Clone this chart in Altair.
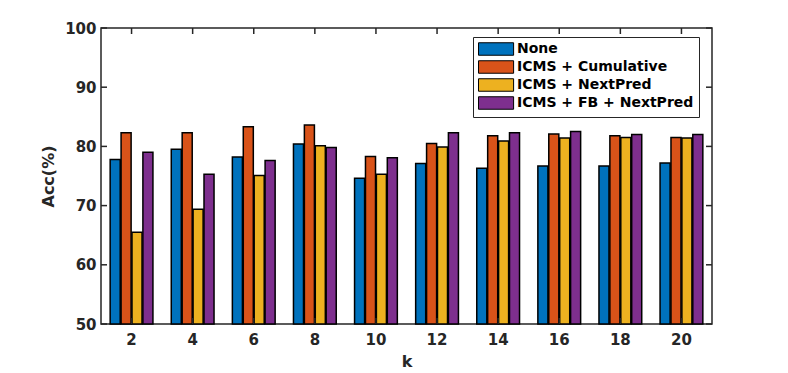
import altair as alt
import pandas as pd

ks = ["2", "4", "6", "8", "10", "12", "14", "16", "18", "20"]
series = ["None", "ICMS + Cumulative", "ICMS + NextPred", "ICMS + FB + NextPred"]
acc_none = [77.8, 79.5, 78.2, 80.4, 74.6, 77.1, 76.3, 76.7, 76.7, 77.2]
acc_cum = [82.3, 82.3, 83.3, 83.6, 78.3, 80.5, 81.8, 82.1, 81.8, 81.5]
acc_next = [65.5, 69.4, 75.1, 80.1, 75.3, 79.9, 80.9, 81.4, 81.5, 81.4]
acc_fb = [79.0, 75.3, 77.6, 79.8, 78.1, 82.3, 82.3, 82.5, 82.0, 82.0]
colors = ["#0072BD", "#D95319", "#EDB120", "#7E2F8E"]
y_ticks = [50, 60, 70, 80, 90, 100]

rows = []
for name, vals in zip(series, [acc_none, acc_cum, acc_next, acc_fb]):
    for k, v in zip(ks, vals):
        rows.append({"k": k, "series": name, "acc": v})
df = pd.DataFrame(rows)
tick_df = pd.DataFrame({"t": y_ticks})
k_df = pd.DataFrame({"k": ks})

W, H = 611, 296
FONT = "DejaVu Sans"
INK = "#262626"

xscale = alt.Scale(domain=ks, paddingInner=0.3, paddingOuter=0.15)
yscale = alt.Scale(domain=[50, 100], nice=False, zero=False)

bars = alt.Chart(df).mark_bar(stroke="black", strokeWidth=1.5).encode(
    x=alt.X("k:N", scale=xscale, sort=ks,
            axis=alt.Axis(title="k", labelAngle=0, tickSize=0, domain=False, grid=False,
                          labelPadding=8, titlePadding=6)),
    xOffset=alt.XOffset("series:N", sort=series,
                        scale=alt.Scale(domain=series, paddingInner=0.08)),
    y=alt.Y("acc:Q", scale=yscale,
            axis=alt.Axis(title="Acc(%)", values=y_ticks, tickSize=0, domain=False, grid=False,
                          labelPadding=5, titlePadding=8)),
    y2=alt.datum(50),
    color=alt.Color("series:N", sort=series,
                    scale=alt.Scale(domain=series, range=colors),
                    legend=alt.Legend(title=None, orient="none", legendX=372, legendY=9,
                                      symbolType="M-1,-0.96H4.4V0.96H-1Z",
                                      symbolSize=169, symbolStrokeColor="black",
                                      symbolStrokeWidth=1, symbolOpacity=1,
                                      labelFont=FONT, labelFontWeight="bold", labelFontSize=14,
                                      labelColor="black", labelOffset=25, labelLimit=400,
                                      rowPadding=0, padding=5,
                                      strokeColor=INK, fillColor="white")),
)

yl = alt.Chart(tick_df).mark_rule(color=INK, strokeWidth=1.5).encode(
    y=alt.Y("t:Q", scale=yscale), x=alt.value(0), x2=alt.value(6))
yr = alt.Chart(tick_df).mark_rule(color=INK, strokeWidth=1.5).encode(
    y=alt.Y("t:Q", scale=yscale), x=alt.value(W), x2=alt.value(W - 6))
xb = alt.Chart(k_df).mark_rule(color=INK, strokeWidth=1.5).encode(
    x=alt.X("k:N", scale=xscale, sort=ks), y=alt.value(H), y2=alt.value(H - 6))
xt = alt.Chart(k_df).mark_rule(color=INK, strokeWidth=1.5).encode(
    x=alt.X("k:N", scale=xscale, sort=ks), y=alt.value(0), y2=alt.value(6))

chart = alt.layer(bars, yl, yr, xb, xt).properties(
    width=W, height=H,
    autosize=alt.AutoSizeParams(type="none"),
    padding={"left": 93, "top": 20, "right": 60, "bottom": 48},
).configure_view(
    stroke=INK, strokeWidth=1.5
).configure_axis(
    labelFont=FONT, labelFontWeight="bold", labelFontSize=15, labelColor=INK,
    titleFont=FONT, titleFontWeight="bold", titleFontSize=16, titleColor=INK,
)

chart.save("out.html", embed_options={"renderer": "svg", "actions": False})
